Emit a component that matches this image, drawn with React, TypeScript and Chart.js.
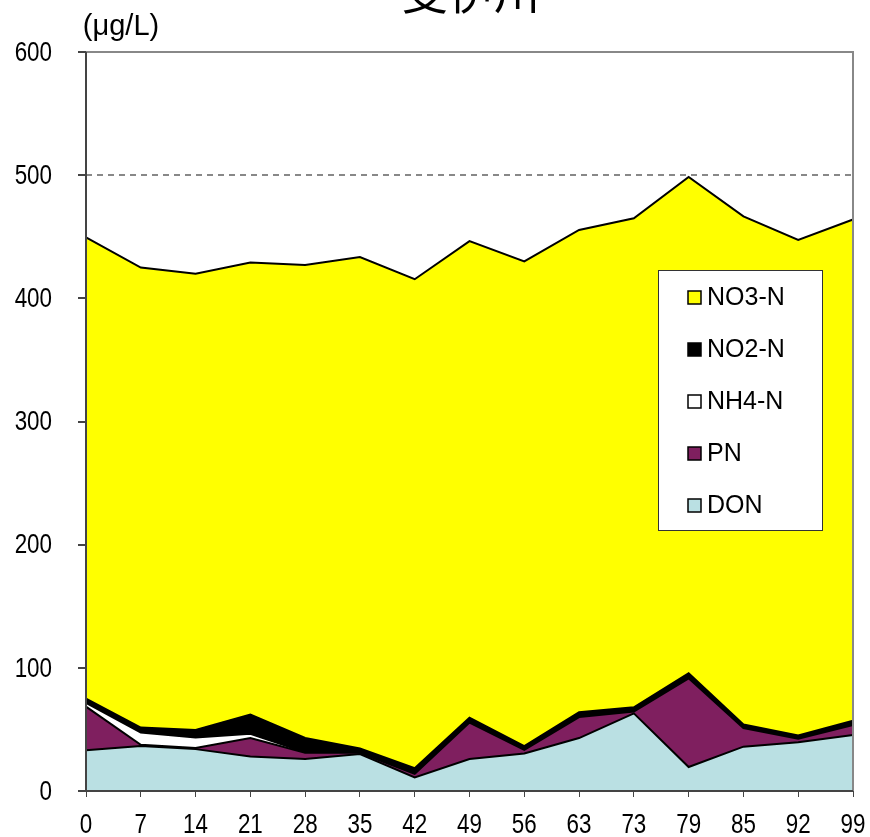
import React, { useEffect, useRef } from "react";
import { Chart, registerables } from "chart.js";

Chart.register(...registerables);

const TITLE = "斐伊川";
const UNIT = "(μg/L)";
const categories = ["0", "7", "14", "21", "28", "35", "42", "49", "56", "63", "73", "79", "85", "92", "99"];
const DON = [33, 36.5, 34, 28, 26, 30, 11, 26, 30.5, 43, 63, 19.5, 36, 39.5, 45.5];
const PN = [35.5, 1, 1, 15, 5, 1, 3, 29.5, 3, 17, 1.5, 72, 15, 3, 8];
const NH4 = [3, 10, 8.5, 3.5, 0.5, 0.5, 1, 0.5, 0.5, 0.5, 0.5, 0.5, 0.5, 0.5, 0.5];
const NO2 = [3.5, 4, 6, 15.5, 11.5, 3, 3.5, 3.5, 2.5, 3.5, 3, 3.5, 2.5, 2, 3];
const NO3 = [374.5, 373.5, 370.5, 367, 384, 399, 397, 387, 393.5, 391.5, 397, 403, 412.5, 402.5, 407];
const yTicks = [0, 100, 200, 300, 400, 500, 600];

const seriesNames = ["DON", "PN", "NH4-N", "NO2-N", "NO3-N"];
const seriesColors = ["#BAE0E3", "#7F1F5F", "#FFFFFF", "#000000", "#FFFF00"];
const seriesData = [DON, PN, NH4, NO2, NO3];

const FONT = "'Liberation Sans', Arial, sans-serif";
const NARROW_SCALE = 0.8;

function narrowText(ctx: any, text: string, x: number, y: number, align: "left" | "center" | "right") {
  ctx.save();
  ctx.translate(x, y);
  ctx.scale(NARROW_SCALE, 1);
  ctx.textAlign = align;
  ctx.textBaseline = "middle";
  ctx.fillText(text, 0, 0);
  ctx.restore();
}

const framePlugin = {
  id: "frame",
  afterDraw(chart: any) {
    const { ctx, chartArea: a, scales } = chart;
    ctx.save();
    ctx.strokeStyle = "#888888";
    ctx.lineWidth = 2;
    ctx.beginPath();
    ctx.moveTo(a.left, a.top);
    ctx.lineTo(a.right, a.top);
    ctx.lineTo(a.right, a.bottom);
    ctx.stroke();
    ctx.strokeStyle = "#444444";
    ctx.beginPath();
    ctx.moveTo(a.left, a.top);
    ctx.lineTo(a.left, a.bottom);
    ctx.stroke();
    ctx.beginPath();
    ctx.moveTo(a.left, a.bottom);
    ctx.lineTo(a.right, a.bottom);
    ctx.stroke();

    // tick labels (narrow)
    ctx.fillStyle = "#000";
    ctx.font = "28px " + FONT;
    yTicks.forEach((v) => {
      narrowText(ctx, String(v), 52, scales.y.getPixelForValue(v) + 1, "right");
    });
    categories.forEach((c, i) => {
      narrowText(ctx, c, scales.x.getPixelForValue(i), 825, "center");
    });

    ctx.font = "46px 'Noto Sans CJK JP', sans-serif";
    ctx.textAlign = "center";
    ctx.textBaseline = "alphabetic";
    ctx.fillText(TITLE, 471, 9);

    ctx.font = "29px " + FONT;
    ctx.textBaseline = "middle";
    ctx.fillText(UNIT, 121, 27);

    const lx = 658, ly = 270, lw = 164, lh = 260;
    ctx.fillStyle = "#fff";
    ctx.fillRect(lx, ly, lw, lh);
    ctx.strokeStyle = "#333";
    ctx.lineWidth = 1;
    ctx.strokeRect(lx + 0.5, ly + 0.5, lw, lh);
    ctx.font = "25px " + FONT;
    ctx.textAlign = "left";
    ctx.textBaseline = "middle";
    for (let i = 0; i < 5; i++) {
      const idx = 4 - i;
      const cy = 297 + i * 52;
      ctx.fillStyle = seriesColors[idx];
      ctx.fillRect(688, cy - 6, 13, 13);
      ctx.strokeStyle = "#000";
      ctx.lineWidth = 1.5;
      ctx.strokeRect(688, cy - 6, 13, 13);
      ctx.fillStyle = "#000";
      ctx.fillText(seriesNames[idx], 707, cy + 1);
    }
    ctx.restore();
  },
};

export default function App() {
  const ref = useRef<HTMLCanvasElement | null>(null);
  useEffect(() => {
    if (!ref.current) return;
    const chart = new Chart(ref.current, {
      type: "line",
      data: {
        labels: categories,
        datasets: seriesData.map((d, i) => ({
          label: seriesNames[i],
          data: d,
          backgroundColor: seriesColors[i],
          borderColor: "#000000",
          borderWidth: 2,
          pointRadius: 0,
          tension: 0,
          fill: i === 0 ? "origin" : "-1",
        })),
      },
      options: {
        animation: false,
        responsive: false,
        maintainAspectRatio: false,
        layout: { padding: { left: 0, right: 17, top: 52, bottom: 0 } },
        plugins: { legend: { display: false }, tooltip: { enabled: false }, title: { display: false } },
        scales: {
          x: {
            offset: false,
            grid: { display: true, drawOnChartArea: false, drawTicks: true, tickLength: 6, tickColor: "#444", color: "#444" },
            border: { display: false },
            ticks: { display: false, autoSkip: false, maxRotation: 0 },
            afterFit(scale: any) { scale.height = 46; },
          },
          y: {
            stacked: true,
            min: 0,
            max: 600,
            afterBuildTicks(scale: any) { scale.ticks = yTicks.map((v) => ({ value: v })); },
            grid: {
              color: (c: any) => (c.tick && c.tick.value === 500 ? "#888888" : "rgba(0,0,0,0)"),
              lineWidth: 2,
              drawTicks: true,
              tickLength: 8,
              tickColor: "#444",
              tickBorderDash: [],
            },
            border: { display: false, dash: [6, 5] },
            ticks: { display: false },
            afterFit(scale: any) { scale.width = 86; },
          },
        },
      },
      plugins: [framePlugin],
    } as any);
    return () => chart.destroy();
  }, []);
  return (
    <div style={{ position: "absolute", left: 0, top: 0, width: 870, height: 837 }}>
      <canvas ref={ref} width={870} height={837} style={{ width: 870, height: 837, display: "block" }} />
    </div>
  );
}
